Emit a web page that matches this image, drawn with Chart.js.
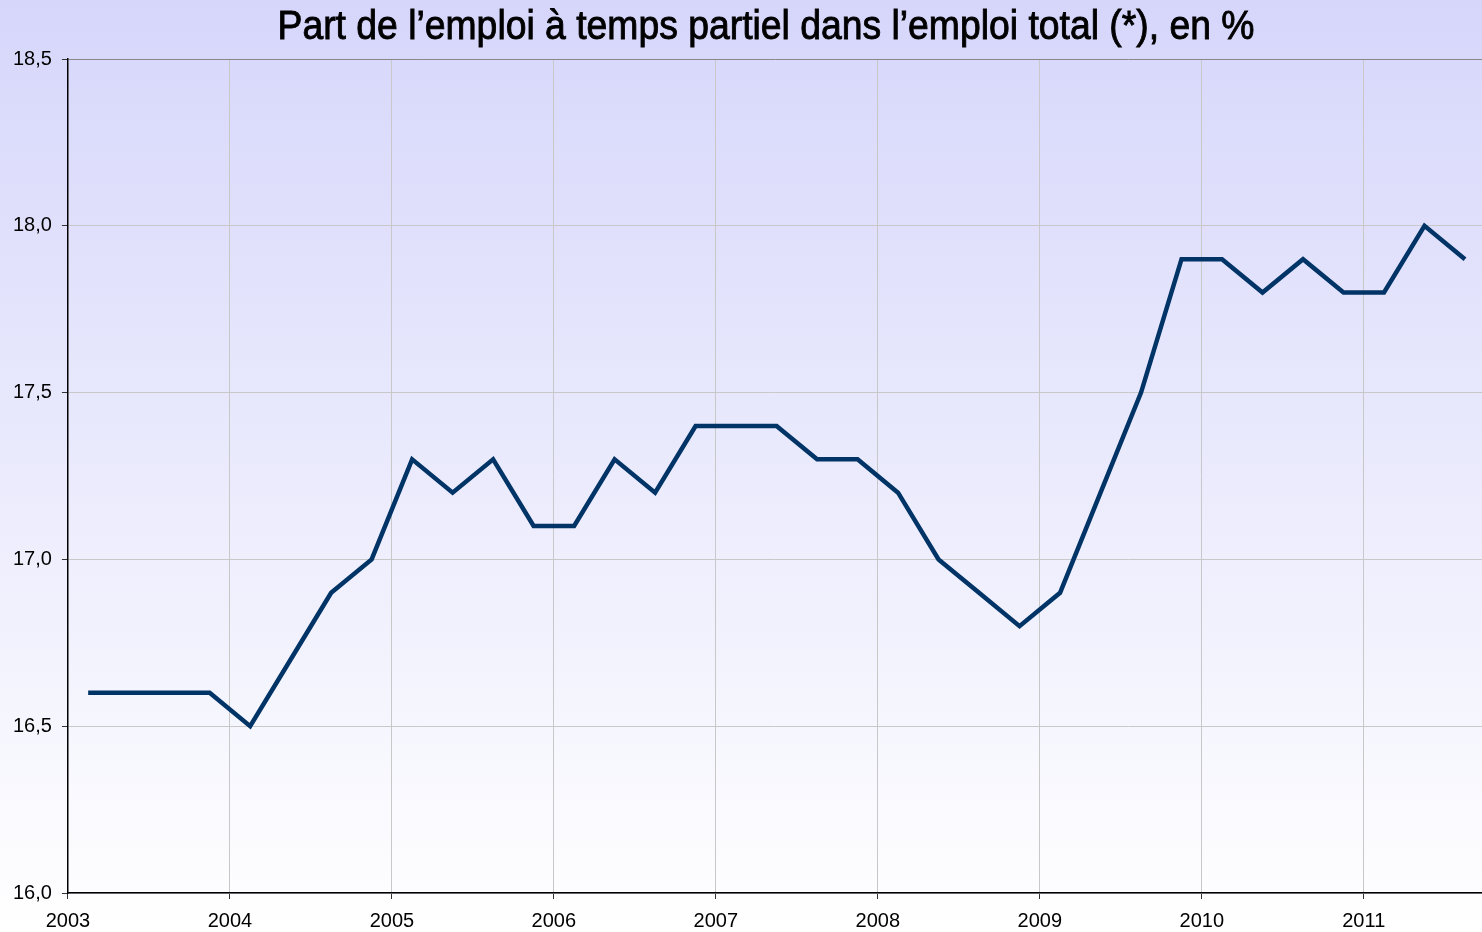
<!DOCTYPE html>
<html>
<head>
<meta charset="utf-8">
<script src="https://cdn.jsdelivr.net/npm/chart.js@4"></script>
<style>
  html, body { margin: 0; padding: 0; background: #fff; }
  canvas { display: block; }
</style>
</head>
<body>
<canvas id="chart" width="1482" height="932"></canvas>
<script>
// Part of part-time work in total employment, quarterly, 2003 Q1 -> 2011 Q3
const titleText = "Part de l\u2019emploi \u00e0 temps partiel dans l\u2019emploi total (*), en %";
const startYear = 2003;
const yearLabels = [2003, 2004, 2005, 2006, 2007, 2008, 2009, 2010, 2011];
const yTicks = [16.0, 16.5, 17.0, 17.5, 18.0, 18.5];
const partTime = [
    16.6, 16.6, 16.6, 16.6,   // 2003
    16.5, 16.7, 16.9, 17.0,   // 2004
    17.3, 17.2, 17.3, 17.1,   // 2005
    17.1, 17.3, 17.2, 17.4,   // 2006
    17.4, 17.4, 17.3, 17.3,   // 2007
    17.2, 17.0, 16.9, 16.8,   // 2008
    16.9, 17.2, 17.5, 17.9,   // 2009
    17.9, 17.8, 17.9, 17.8,   // 2010
    17.8, 18.0, 17.9          // 2011
];

// each quarter sits in the middle of its slot
const points = partTime.map((v, i) => ({ x: startYear + (i + 0.5) / 4, y: v }));

// lavender -> white background over the whole canvas
const bgPlugin = {
    id: 'bgGradient',
    beforeDraw(chart) {
        const ctx = chart.ctx;
        const g = ctx.createLinearGradient(0, 0, 0, chart.height);
        g.addColorStop(0, '#d6d6fb');
        g.addColorStop(1, '#ffffff');
        ctx.save();
        ctx.fillStyle = g;
        ctx.fillRect(0, 0, chart.width, chart.height);
        ctx.restore();
    }
};

// narrow title: no Arial Narrow here, so squeeze Liberation Sans horizontally
const titlePlugin = {
    id: 'narrowTitle',
    afterDraw(chart) {
        const ctx = chart.ctx;
        ctx.save();
        ctx.font = "40px 'Liberation Sans', Arial, sans-serif";
        const w = ctx.measureText(titleText).width;
        const sx = 977 / w;
        ctx.translate(chart.width / 2 + 25, 39);
        ctx.scale(sx, 1);
        ctx.textAlign = 'center';
        ctx.textBaseline = 'alphabetic';
        ctx.fillStyle = '#000';
        ctx.strokeStyle = '#000';
        ctx.lineWidth = 0.9;   // a bit heavier, like the original
        ctx.fillText(titleText, 0, 0);
        ctx.strokeText(titleText, 0, 0);
        ctx.restore();
    }
};

const tickFont = { family: "'Liberation Sans', Arial, sans-serif", size: 20 };

new Chart(document.getElementById('chart').getContext('2d'), {
    type: 'line',
    data: {
        datasets: [{
            data: points,
            borderColor: '#003366',
            borderWidth: 4.5,
            pointRadius: 0,
            tension: 0,
            fill: false
        }]
    },
    options: {
        responsive: false,
        animation: false,
        layout: { padding: { left: 3, right: 0, top: 59, bottom: -11 } },
        plugins: {
            legend: { display: false },
            tooltip: { enabled: false },
            title: { display: false }
        },
        scales: {
            x: {
                type: 'linear',
                min: startYear,
                max: 2011.73,
                afterBuildTicks: axis => { axis.ticks = yearLabels.map(v => ({ value: v })); },
                border: { color: '#000', width: 1.5 },
                grid: { color: '#c8c8c8', lineWidth: 1, tickColor: '#333', tickLength: 6 },
                ticks: {
                    color: '#000',
                    font: tickFont,
                    padding: 10,
                    maxRotation: 0,
                    autoSkip: false,
                    callback: v => String(v)
                }
            },
            y: {
                min: 16,
                max: 18.5,
                afterBuildTicks: axis => { axis.ticks = yTicks.map(v => ({ value: v })); },
                border: { color: '#000', width: 1.5 },
                grid: {
                    color: ctx => (ctx.tick && ctx.tick.value === 18.5) ? '#888' : '#c8c8c8',
                    lineWidth: 1,
                    tickColor: '#333',
                    tickLength: 6
                },
                ticks: {
                    color: '#000',
                    font: tickFont,
                    padding: 10,
                    callback: v => v.toFixed(1).replace('.', ',')
                }
            }
        }
    },
    plugins: [bgPlugin, titlePlugin]
});
</script>
</body>
</html>
